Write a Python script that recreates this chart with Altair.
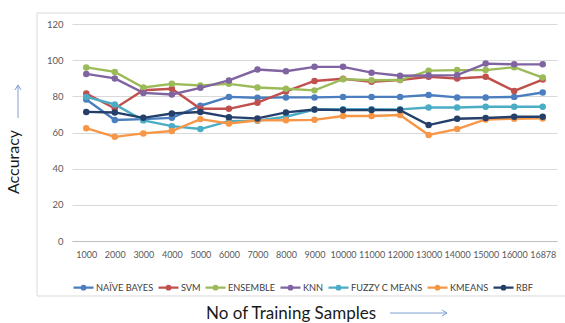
import altair as alt
import pandas as pd

samples = ["1000", "2000", "3000", "4000", "5000", "6000", "7000", "8000", "9000",
           "10000", "11000", "12000", "13000", "14000", "15000", "16000", "16878"]
series_names = ["NAÏVE BAYES", "SVM", "ENSEMBLE", "KNN", "FUZZY C MEANS", "KMEANS", "RBF"]
series_colors = ["#4A7EBF", "#C0504D", "#9BBB59", "#8064A2", "#4BACC6", "#F79646", "#24406A"]

naive_bayes = [78.3, 66.9, 67.4, 68.1, 74.8, 79.7, 79.2, 79.4, 79.4, 79.7, 79.7, 79.7, 80.7, 79.4, 79.4, 79.7, 82.1]
svm = [81.6, 73.3, 83.4, 84.2, 73.1, 73.1, 76.5, 82.7, 88.5, 89.7, 88.0, 89.0, 90.8, 89.9, 90.8, 83.0, 89.3]
ensemble = [96.0, 93.5, 84.9, 86.9, 86.0, 86.9, 84.9, 84.2, 83.3, 89.5, 88.9, 89.0, 94.2, 94.5, 94.5, 96.1, 90.4]
knn = [92.4, 89.9, 81.9, 81.0, 84.7, 88.8, 94.8, 93.9, 96.3, 96.3, 93.1, 91.4, 91.5, 91.7, 98.1, 97.7, 97.7]
fuzzy = [79.7, 75.5, 66.7, 63.5, 61.9, 66.3, 66.5, 68.7, 72.7, 72.9, 72.9, 72.8, 73.8, 73.8, 74.2, 74.2, 74.2]
kmeans = [62.4, 57.6, 59.5, 60.8, 67.4, 65.0, 66.7, 66.8, 67.0, 69.1, 69.1, 69.7, 58.6, 61.9, 67.2, 67.6, 67.8]
rbf = [71.4, 71.1, 68.1, 70.5, 71.3, 68.5, 67.8, 71.1, 72.7, 72.4, 72.4, 72.4, 64.1, 67.6, 68.0, 68.7, 68.7]

all_series = [naive_bayes, svm, ensemble, knn, fuzzy, kmeans, rbf]
rows = []
for name, vals in zip(series_names, all_series):
    for s, v in zip(samples, vals):
        rows.append({"Samples": s, "Accuracy": v, "Model": name})
df = pd.DataFrame(rows)

FONT = "Lato"
ARROW = "#7F9FCF"

color = alt.Color(
    "Model:N",
    scale=alt.Scale(domain=series_names, range=series_colors),
    sort=series_names,
    legend=alt.Legend(
        title=None, orient="none", legendX=0, legendY=252, direction="horizontal",
        columns=7,
        symbolType="M-1,0H1M-0.18,0A0.18,0.18 0 1,1 0.18,0A0.18,0.18 0 1,1 -0.18,0",
        symbolSize=400, symbolStrokeWidth=2.2,
        labelFont=FONT, labelFontSize=9.2, labelColor="#404040",
        labelOffset=1, columnPadding=0, padding=0,
    ),
)

base = alt.Chart(df).encode(
    x=alt.X("Samples:N", sort=samples, scale=alt.Scale(type="point", padding=0.5),
            axis=alt.Axis(title=None, labelAngle=0, labelOverlap=False, ticks=False,
                          domainColor="#BFBFBF", labelPadding=9, labelFontSize=9,
                          labelColor="#595959", labelFont=FONT, grid=False)),
    y=alt.Y("Accuracy:Q", scale=alt.Scale(domain=[0, 120], nice=False),
            axis=alt.Axis(title=None, values=[0, 20, 40, 60, 80, 100, 120], domain=False,
                          ticks=False, labelPadding=9, labelFontSize=9.5, labelColor="#595959",
                          labelFont=FONT, gridColor="#D9D9D9")),
    color=color,
)

lines = base.mark_line(strokeWidth=2.4)
points = base.mark_point(filled=True, size=42, opacity=1)

one = alt.Data(values=[{"a": 1}])
border = alt.Chart(one).mark_rect(fill=None, stroke="#D9D9D9", strokeWidth=1).encode(
    x=alt.value(-35), x2=alt.value(500), y=alt.value(-11), y2=alt.value(272))

ytitle = alt.Chart(one).mark_text(text="Accuracy", angle=270, font=FONT, fontSize=16,
                                  color="#1A1A1A", baseline="middle", align="center").encode(
    x=alt.value(-58), y=alt.value(138))
xtitle = alt.Chart(one).mark_text(text="No of Training Samples", font=FONT, fontSize=17,
                                  color="#1A1A1A", baseline="alphabetic", align="center").encode(
    x=alt.value(219), y=alt.value(294.5))

def seg(x1, y1, x2, y2):
    return alt.Chart(one).mark_rule(color=ARROW, strokeWidth=1).encode(
        x=alt.value(x1), y=alt.value(y1), x2=alt.value(x2), y2=alt.value(y2))

arrows = [
    seg(-54, 94, -54, 61), seg(-54, 61, -57, 66), seg(-54, 61, -51, 66),
    seg(318, 289, 375, 289), seg(375, 289, 370, 286), seg(375, 289, 370, 292),
]

chart = alt.layer(border, lines, points, ytitle, xtitle, *arrows).properties(
    width=485, height=217,
    autosize=alt.AutoSizeParams(type="none"),
    padding={"left": 72, "top": 24, "right": 8, "bottom": 82},
    background="white",
).configure_view(stroke=None)

chart.save("out.html", embed_options={"renderer": "svg", "actions": False})
